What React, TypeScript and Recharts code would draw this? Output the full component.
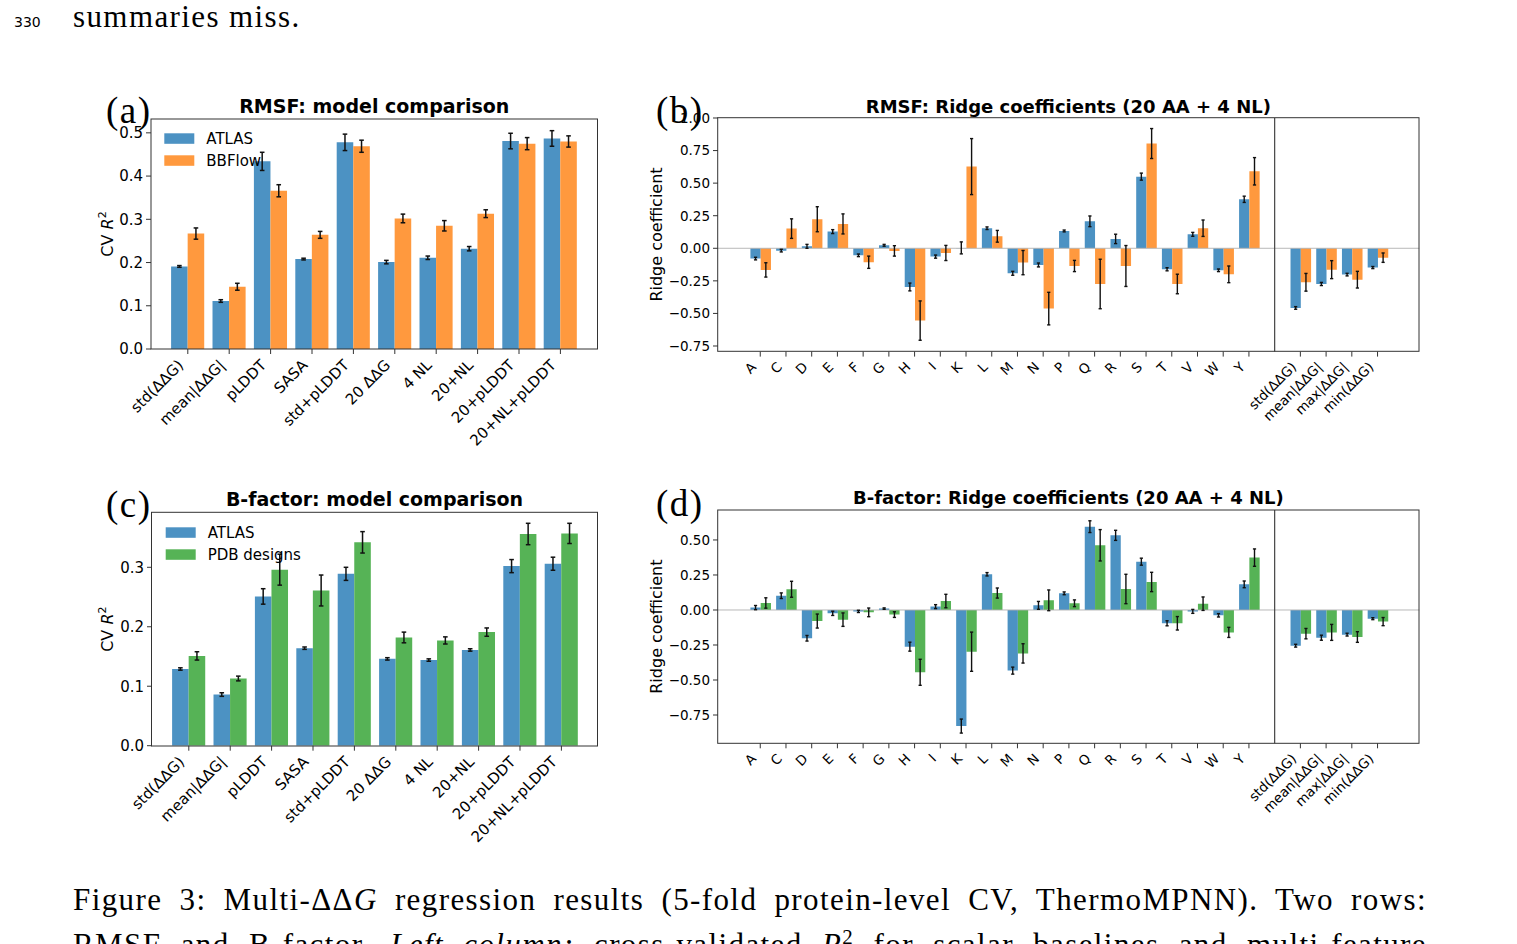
import React from "react";
import { BarChart, Bar, XAxis, YAxis, ErrorBar, ReferenceLine } from "recharts";

const FONT = "'DejaVu Sans', sans-serif";
const SERIF = "'Liberation Serif', 'DejaVu Serif', serif";

const BLUE = "#4c92c3";
const ORANGE = "#ff993e";
const GREEN = "#56b356";

// left column: scalar baselines and multi-feature models (CV R^2)
const modelNames = ["std(ΔΔG)", "mean|ΔΔG|", "pLDDT", "SASA", "std+pLDDT", "20 ΔΔG", "4 NL", "20+NL", "20+pLDDT", "20+NL+pLDDT"];

const rmsfAtlas = [0.191, 0.111, 0.434, 0.208, 0.478, 0.201, 0.211, 0.232, 0.481, 0.487];
const rmsfAtlasErr = [0.002, 0.003, 0.021, 0.002, 0.019, 0.004, 0.004, 0.005, 0.018, 0.018];
const rmsfBbflow = [0.267, 0.144, 0.366, 0.264, 0.469, 0.302, 0.285, 0.313, 0.475, 0.48];
const rmsfBbflowErr = [0.013, 0.008, 0.014, 0.008, 0.014, 0.01, 0.012, 0.009, 0.014, 0.013];

const bfAtlas = [0.129, 0.086, 0.251, 0.164, 0.289, 0.146, 0.144, 0.161, 0.302, 0.306];
const bfAtlasErr = [0.002, 0.003, 0.013, 0.002, 0.011, 0.002, 0.002, 0.002, 0.011, 0.011];
const bfPdb = [0.151, 0.113, 0.296, 0.261, 0.342, 0.182, 0.177, 0.191, 0.356, 0.357];
const bfPdbErr = [0.007, 0.004, 0.026, 0.026, 0.018, 0.009, 0.006, 0.007, 0.018, 0.017];

// right column: ridge coefficients, 20 AA + spacer + 4 NL summaries
const coefNames = ["A", "C", "D", "E", "F", "G", "H", "I", "K", "L", "M", "N", "P", "Q", "R", "S", "T", "V", "W", "Y", " ", "std(ΔΔG)", "mean|ΔΔG|", "max|ΔΔG|", "min(ΔΔG)"];

const rmsfCoefAtlas = [-0.079, -0.018, 0.015, 0.128, -0.054, 0.023, -0.297, -0.064, 0.003, 0.154, -0.192, -0.128, 0.133, 0.207, 0.072, 0.55, -0.161, 0.107, -0.169, 0.376, null, -0.458, -0.274, -0.202, -0.148];
const rmsfCoefAtlasErr = [0.01, 0.01, 0.015, 0.015, 0.01, 0.007, 0.03, 0.012, 0.046, 0.01, 0.015, 0.015, 0.007, 0.041, 0.036, 0.027, 0.012, 0.015, 0.01, 0.024, null, 0.01, 0.012, 0.01, 0.008];
const rmsfCoefBbflow = [-0.166, 0.151, 0.223, 0.187, -0.107, -0.02, -0.555, -0.036, 0.627, 0.092, -0.11, -0.463, -0.136, -0.274, -0.136, 0.804, -0.274, 0.154, -0.2, 0.591, null, -0.261, -0.164, -0.241, -0.072];
const rmsfCoefBbflowErr = [0.055, 0.075, 0.096, 0.077, 0.047, 0.04, 0.151, 0.058, 0.215, 0.045, 0.093, 0.125, 0.043, 0.19, 0.157, 0.115, 0.075, 0.063, 0.064, 0.105, null, 0.068, 0.069, 0.064, 0.036];

const bfCoefAtlas = [0.017, 0.102, -0.202, -0.024, -0.01, 0.01, -0.262, 0.024, -0.829, 0.255, -0.433, 0.033, 0.119, 0.595, 0.533, 0.345, -0.095, -0.01, -0.038, 0.183, null, -0.255, -0.198, -0.176, -0.062];
const bfCoefAtlasErr = [0.015, 0.02, 0.02, 0.015, 0.008, 0.005, 0.032, 0.014, 0.05, 0.012, 0.025, 0.028, 0.01, 0.042, 0.036, 0.025, 0.018, 0.014, 0.012, 0.024, null, 0.01, 0.018, 0.01, 0.007];
const bfCoefPdb = [0.05, 0.148, -0.079, -0.069, -0.017, -0.033, -0.445, 0.064, -0.298, 0.121, -0.31, 0.069, 0.048, 0.462, 0.15, 0.2, -0.095, 0.045, -0.16, 0.374, null, -0.169, -0.16, -0.193, -0.083];
const bfCoefPdbErr = [0.037, 0.057, 0.05, 0.048, 0.031, 0.02, 0.093, 0.048, 0.14, 0.036, 0.069, 0.074, 0.024, 0.112, 0.105, 0.069, 0.048, 0.048, 0.036, 0.062, null, 0.037, 0.057, 0.038, 0.029];

const r2Ticks = [0, 0.1, 0.2, 0.3, 0.4, 0.5];
const r2TicksB = [0, 0.1, 0.2, 0.3];
const coefTicksA = [-0.75, -0.5, -0.25, 0, 0.25, 0.5, 0.75, 1.0];
const coefTicksB = [-0.75, -0.5, -0.25, 0, 0.25, 0.5];

type Rect = { x: number; y: number; w: number; h: number };
type Series = { name: string; color: string; values: (number | null)[]; errors: (number | null)[] };

const rectA: Rect = { x: 151, y: 119, w: 446.5, h: 230 };
const rectB: Rect = { x: 717.7, y: 117.7, w: 701.3, h: 233.6 };
const rectC: Rect = { x: 151.5, y: 512.3, w: 446, h: 233.7 };
const rectD: Rect = { x: 717.7, y: 510, w: 701.3, h: 233.3 };

function fmt(v: number, d: number) {
  const s = Math.abs(v).toFixed(d);
  return v < -1e-9 ? "\u2212" + s : s;
}

function RotTick(props: any) {
  const { x, y, payload, fontSize } = props;
  const label = String(payload.value);
  if (!label.trim()) return null;
  const px = x - 0.23 * fontSize;
  const py = y + 4 + 0.54 * fontSize;
  return (
    <g>
      <line x1={x} y1={y - 5} x2={x} y2={y} stroke="#333" strokeWidth={1} />
      <text x={px} y={py} textAnchor="end" fontSize={fontSize} fontFamily={FONT} fill="#000" transform={`rotate(-45 ${px} ${py})`}>
        {label}
      </text>
    </g>
  );
}

function Panel(props: {
  rect: Rect;
  names: string[];
  series: Series[];
  domain: [number, number];
  ticks: number[];
  decimals: number;
  fontSize: number;
  band: number;
  padLeft: number;
  padRight: number;
  cap: number;
  errWidth: number;
  ridge?: boolean;
}) {
  const { rect, names, series, domain, ticks, decimals, fontSize, band, padLeft, padRight, cap, errWidth, ridge } = props;
  const data = names.map((n, i) => {
    const row: any = { name: n };
    series.forEach((s, k) => {
      row["v" + k] = s.values[i];
      row["e" + k] = s.errors[i];
    });
    return row;
  });
  return (
    <div style={{ position: "absolute", left: rect.x - 100, top: rect.y - 40 }}>
      <BarChart
        width={rect.w + 140}
        height={rect.h + 160}
        data={data}
        margin={{ top: 40, right: 40, bottom: 0, left: 0 }}
        barGap={0}
        barSize={band * 0.4}
      >
        <XAxis
          dataKey="name"
          height={120}
          interval={0}
          padding={{ left: padLeft, right: padRight }}
          axisLine={false}
          tickLine={false}
          tickSize={5}
          tickMargin={0}
          tick={(p: any) => <RotTick {...p} fontSize={fontSize} />}
        />
        <YAxis
          width={100}
          type="number"
          domain={domain}
          ticks={ticks}
          allowDataOverflow
          interval={0}
          axisLine={false}
          tickSize={5}
          tickMargin={3}
          tickLine={{ stroke: "#333" }}
          tick={{ fill: "#000", fontSize, fontFamily: FONT }}
          tickFormatter={(v: number) => fmt(v, decimals)}
        />
        {ridge && <ReferenceLine y={0} stroke="#b0b0b0" strokeWidth={0.9} />}
        {ridge && <ReferenceLine x=" " stroke="#444" strokeWidth={1.2} />}
        {series.map((s, k) => (
          <Bar key={s.name} dataKey={"v" + k} fill={s.color} isAnimationActive={false}>
            <ErrorBar dataKey={"e" + k} width={cap} stroke="#111" strokeWidth={errWidth} direction="y" isAnimationActive={false} />
          </Bar>
        ))}
      </BarChart>
    </div>
  );
}

function Frame({ r }: { r: Rect }) {
  return <rect x={r.x} y={r.y} width={r.w} height={r.h} fill="none" stroke="#333" strokeWidth={1} />;
}

function LegendBox({ x, y, series }: { x: number; y: number; series: Series[] }) {
  return (
    <g>
      {series.map((s, i) => (
        <g key={s.name}>
          <rect x={x} y={y + i * 22} width={30} height={10.5} fill={s.color} />
          <text x={x + 42} y={y + i * 22 + 11} fontSize={15} fontFamily={FONT} fill="#000">
            {s.name}
          </text>
        </g>
      ))}
    </g>
  );
}

const rmsfModel: Series[] = [
  { name: "ATLAS", color: BLUE, values: rmsfAtlas, errors: rmsfAtlasErr },
  { name: "BBFlow", color: ORANGE, values: rmsfBbflow, errors: rmsfBbflowErr },
];
const bfModel: Series[] = [
  { name: "ATLAS", color: BLUE, values: bfAtlas, errors: bfAtlasErr },
  { name: "PDB designs", color: GREEN, values: bfPdb, errors: bfPdbErr },
];
const rmsfCoef: Series[] = [
  { name: "ATLAS", color: BLUE, values: rmsfCoefAtlas, errors: rmsfCoefAtlasErr },
  { name: "BBFlow", color: ORANGE, values: rmsfCoefBbflow, errors: rmsfCoefBbflowErr },
];
const bfCoef: Series[] = [
  { name: "ATLAS", color: BLUE, values: bfCoefAtlas, errors: bfCoefAtlasErr },
  { name: "PDB designs", color: GREEN, values: bfCoefPdb, errors: bfCoefPdbErr },
];

function YLabelR2({ x, y }: { x: number; y: number }) {
  return (
    <text transform={`translate(${x},${y}) rotate(-90)`} textAnchor="middle" fontSize={16} fontFamily={FONT} fill="#000">
      CV <tspan fontStyle="italic">R</tspan>
      <tspan dy={-7} fontSize={11}>2</tspan>
    </text>
  );
}

function YLabelRidge({ x, y }: { x: number; y: number }) {
  return (
    <text transform={`translate(${x},${y}) rotate(-90)`} textAnchor="middle" fontSize={16} fontFamily={FONT} fill="#000">
      Ridge coefficient
    </text>
  );
}

export default function App() {
  const capLine = {
    position: "absolute" as const,
    left: 73,
    width: 1354,
    fontFamily: SERIF,
    fontSize: 31,
    letterSpacing: 1.4,
    lineHeight: "45px",
    textAlign: "justify" as const,
    textAlignLast: "justify" as const,
    whiteSpace: "nowrap" as const,
    color: "#000",
  };
  return (
    <div style={{ position: "absolute", left: 0, top: 0, width: 1517, height: 944, overflow: "hidden", background: "#fff" }}>
      <Panel rect={rectA} names={modelNames} series={rmsfModel} domain={[0, 0.532]} ticks={r2Ticks} decimals={1} fontSize={15} band={41.4} padLeft={16.1} padRight={16.4} cap={2.3} errWidth={1.5} />
      <Panel rect={rectC} names={modelNames} series={bfModel} domain={[0, 0.393]} ticks={r2TicksB} decimals={1} fontSize={15} band={41.4} padLeft={16.1} padRight={15.9} cap={2.3} errWidth={1.5} />
      <Panel rect={rectB} names={coefNames} series={rmsfCoef} domain={[-0.793, 1.0]} ticks={coefTicksA} decimals={2} fontSize={13.5} band={25.72} padLeft={29.4} padRight={28.9} cap={1.6} errWidth={1.4} ridge />
      <Panel rect={rectD} names={coefNames} series={bfCoef} domain={[-0.952, 0.714]} ticks={coefTicksB} decimals={2} fontSize={13.5} band={25.72} padLeft={29.4} padRight={28.9} cap={1.6} errWidth={1.4} ridge />

      <svg width={1517} height={944} style={{ position: "absolute", left: 0, top: 0, pointerEvents: "none" }}>
        <Frame r={rectA} />
        <Frame r={rectB} />
        <Frame r={rectC} />
        <Frame r={rectD} />

        <text x={14} y={27} fontSize={14} fontFamily={FONT} fill="#000">330</text>
        <text x={73} y={27} fontSize={31} fontFamily={SERIF} letterSpacing={1.4} fill="#000">summaries miss.</text>

        <text x={rectA.x + rectA.w / 2} y={113} textAnchor="middle" fontSize={19} fontWeight="bold" fontFamily={FONT} fill="#000">RMSF: model comparison</text>
        <text x={rectB.x + rectB.w / 2} y={112.7} textAnchor="middle" fontSize={18} fontWeight="bold" fontFamily={FONT} fill="#000">RMSF: Ridge coefficients (20 AA + 4 NL)</text>
        <text x={rectC.x + rectC.w / 2} y={506} textAnchor="middle" fontSize={19} fontWeight="bold" fontFamily={FONT} fill="#000">B-factor: model comparison</text>
        <text x={rectD.x + rectD.w / 2} y={504} textAnchor="middle" fontSize={18} fontWeight="bold" fontFamily={FONT} fill="#000">B-factor: Ridge coefficients (20 AA + 4 NL)</text>

        <YLabelR2 x={113} y={rectA.y + rectA.h / 2} />
        <YLabelR2 x={113} y={rectC.y + rectC.h / 2} />
        <YLabelRidge x={661.5} y={rectB.y + rectB.h / 2} />
        <YLabelRidge x={661.5} y={rectD.y + rectD.h / 2} />

        <LegendBox x={164.3} y={133.3} series={rmsfModel} />
        <LegendBox x={165.7} y={527.3} series={bfModel} />

        <text x={106} y={123} fontSize={37} fontFamily={SERIF} letterSpacing={1.5} fill="#000">(a)</text>
        <text x={656} y={123} fontSize={37} fontFamily={SERIF} letterSpacing={1.5} fill="#000">(b)</text>
        <text x={106} y={517} fontSize={37} fontFamily={SERIF} letterSpacing={1.5} fill="#000">(c)</text>
        <text x={656} y={516} fontSize={37} fontFamily={SERIF} letterSpacing={1.5} fill="#000">(d)</text>
      </svg>

      <div style={{ ...capLine, top: 876.5 }}>
        Figure 3: Multi-ΔΔ<i>G</i> regression results (5-fold protein-level CV, ThermoMPNN). Two rows:
      </div>
      <div style={{ ...capLine, top: 921.5 }}>
        RMSF and B-factor. <i>Left column:</i> cross-validated <i>R</i>
        <sup style={{ fontSize: 21, lineHeight: 0 }}>2</sup> for scalar baselines and multi-feature
      </div>
    </div>
  );
}
